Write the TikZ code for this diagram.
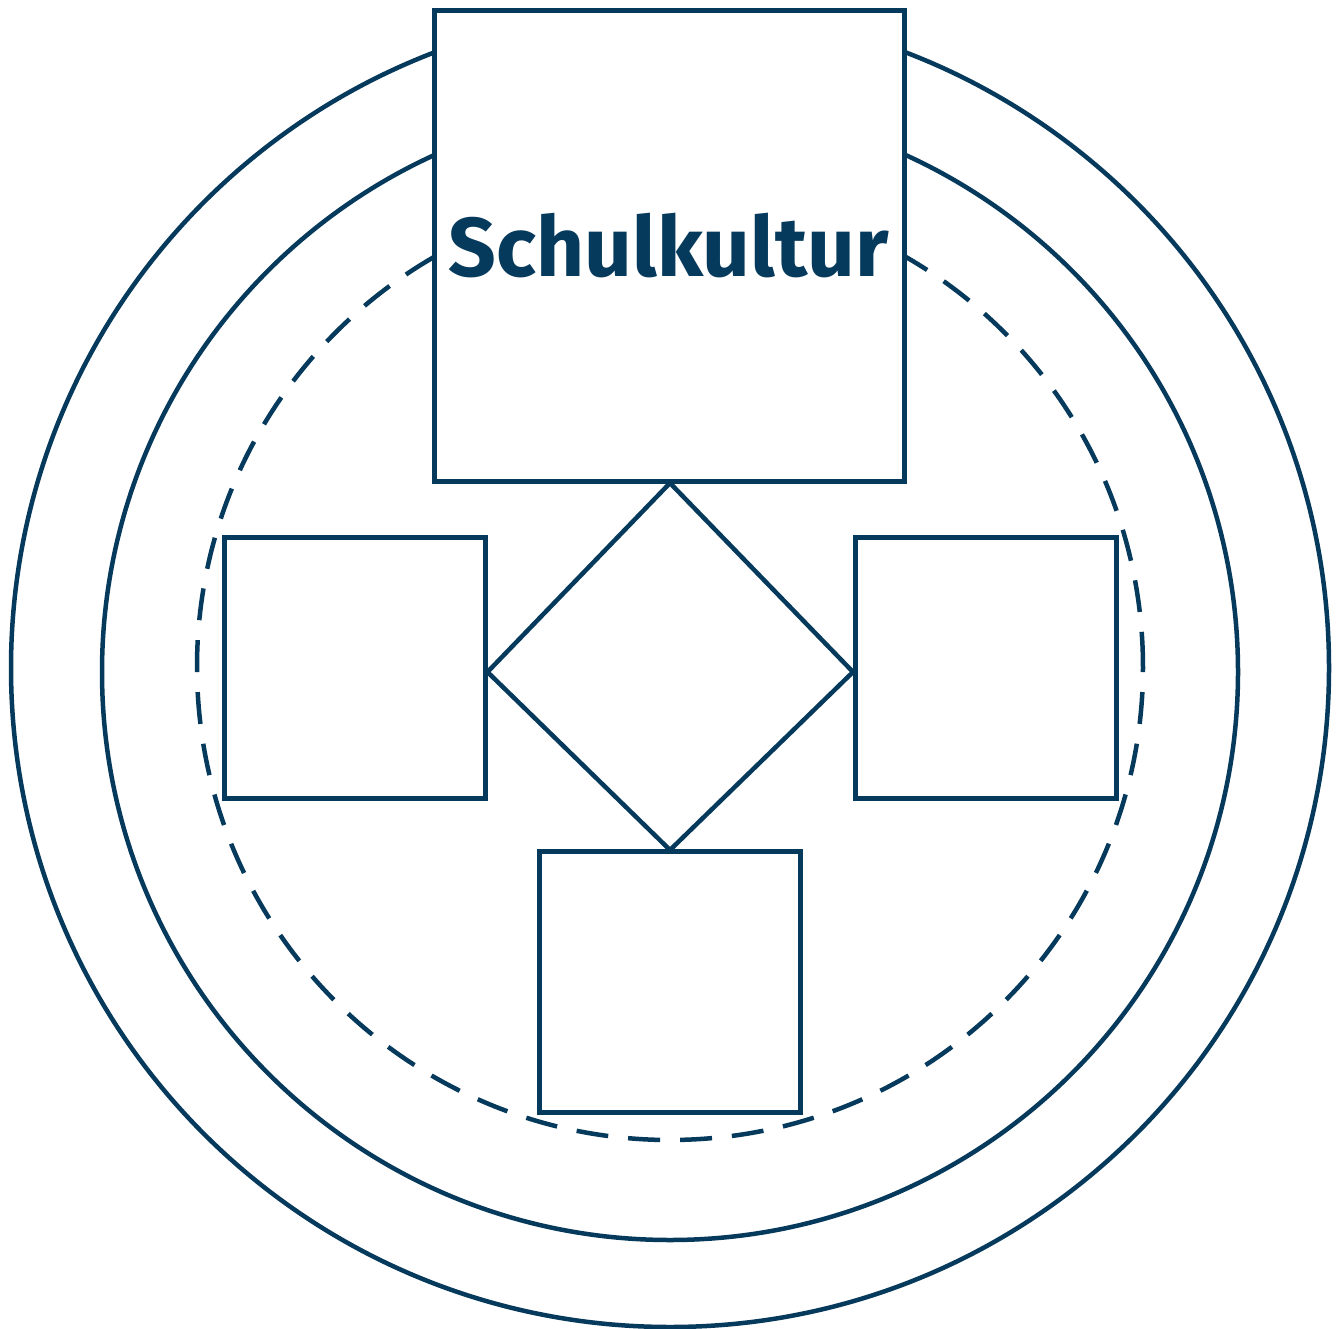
\documentclass[tikz,border=0pt]{standalone}
\usepackage{fontspec}
\setsansfont{Fira Sans}
\usetikzlibrary{calc}
\definecolor{navy}{HTML}{063A5D}
\begin{document}
\begin{tikzpicture}[x=1pt,y=1pt,yscale=-1,
  line/.style={draw=navy,line width=5pt},
  sq/.style={line,fill=white,minimum width=#1,minimum height=#1,inner sep=0pt,outer sep=0pt},
  ring/.style={line,line width=4.5pt},
  dring/.style={line,line width=4.5pt,dash pattern=on 32pt off 20pt}]
\useasboundingbox (0,0) rectangle (1341,1329);
\fill[white] (0,0) rectangle (1341,1329);
\draw[ring] (670,668) circle[radius=659];
\draw[ring] (670,672) circle[radius=568];
\draw[dring] ($(670,667)+(-3.27:473)$) arc[start angle=-3.27, delta angle=360, radius=473];
\fill[white] (420,0) rectangle (918,12);
\node[sq=470pt] (top) at (669,246) {};
\node[sq=261pt] (left) at (354.5,667.5) {};
\node[sq=261pt] (right) at (985.5,667.5) {};
\node[sq=261pt] (bottom) at (670,982) {};
\coordinate (dT) at (670,483);
\coordinate (dL) at (487.5,672);
\coordinate (dR) at (853,672);
\coordinate (dB) at (670,850);
\draw[line,line width=4.5pt,line join=miter] (dT) -- (dR) -- (dB) -- (dL) -- cycle;
\node[text=navy,font=\sffamily\bfseries\fontsize{83.5}{88}\selectfont,anchor=base] (lbl) at (668.5,277) {Schulkultur};
\end{tikzpicture}
\end{document}
